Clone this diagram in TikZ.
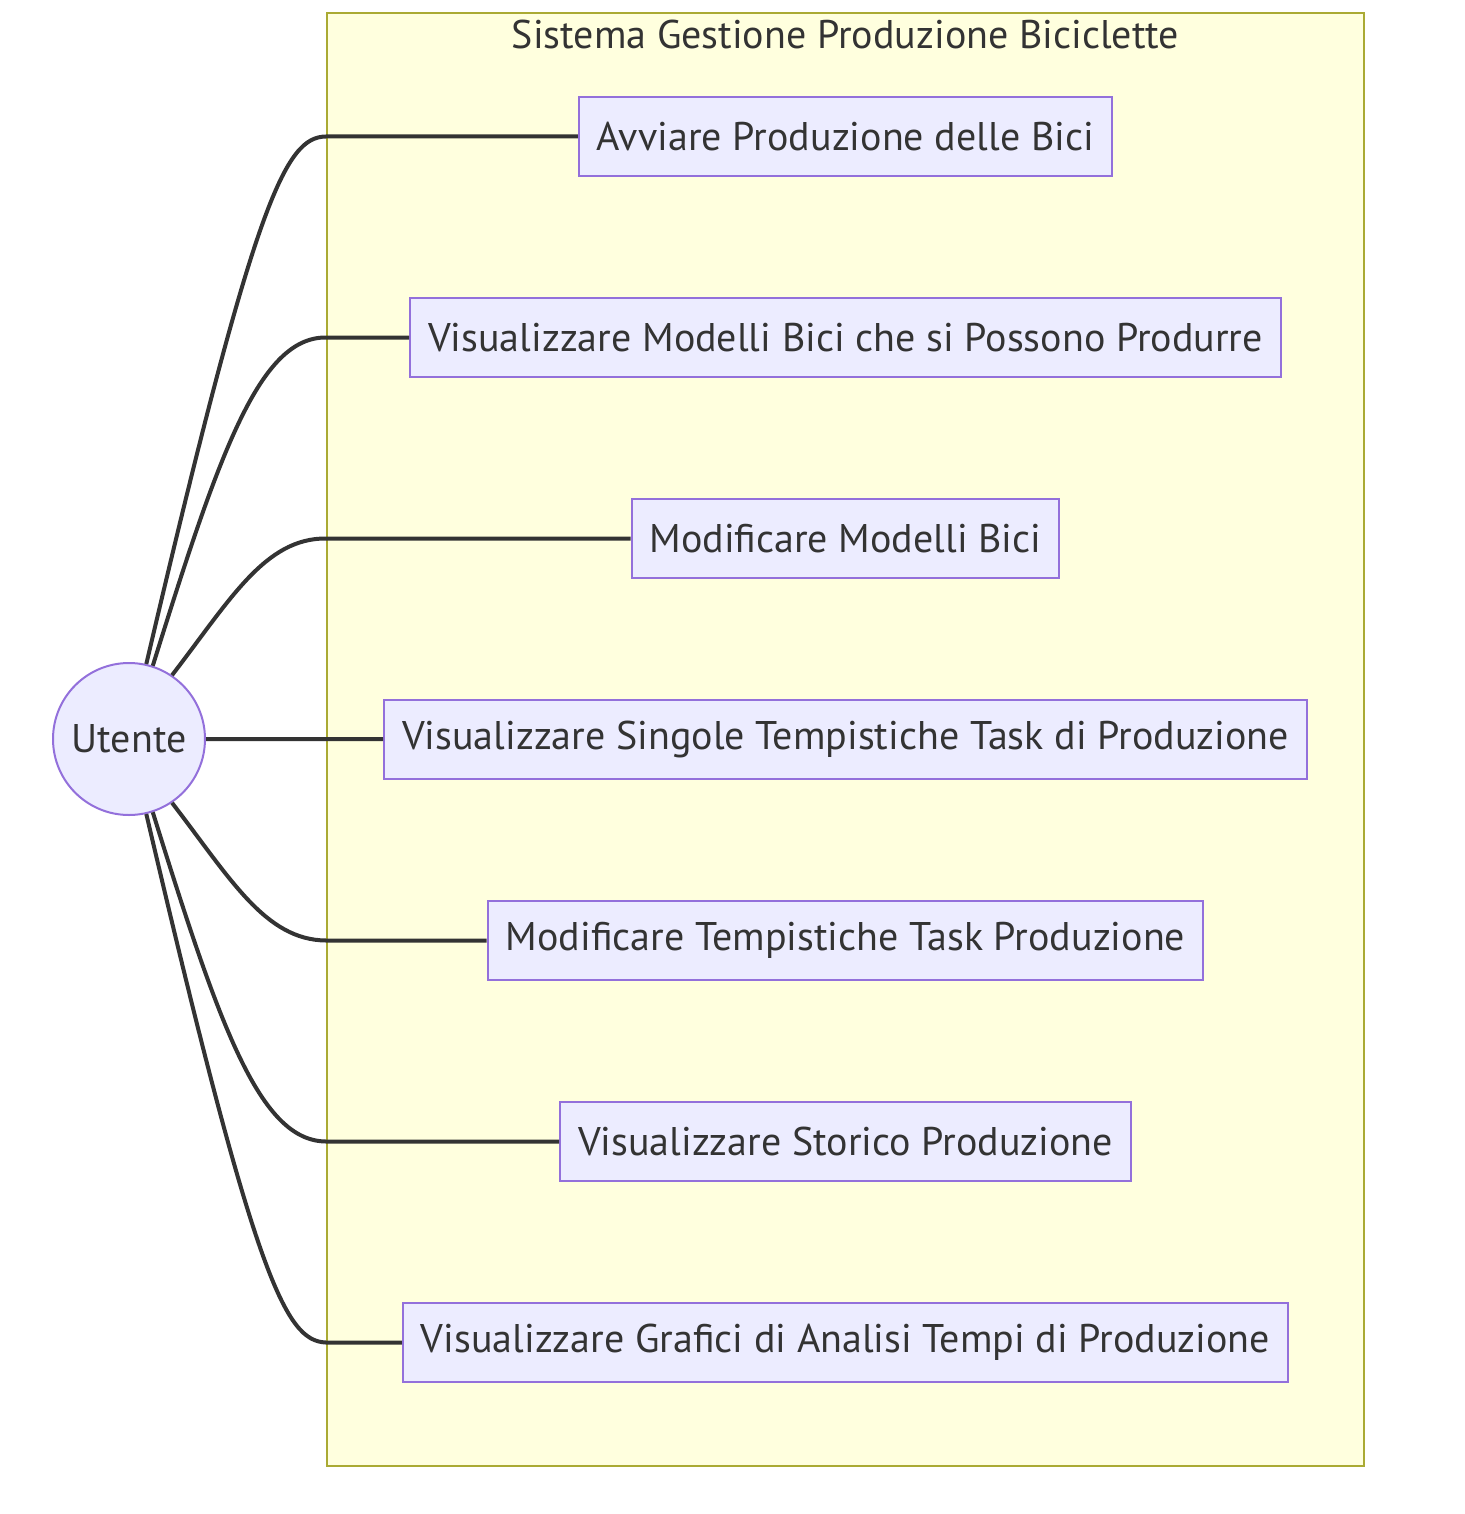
\documentclass[tikz,border=0pt]{standalone}
\usepackage{fontspec}
\setmainfont{PT Sans}
\usetikzlibrary{matrix,calc,positioning}
\definecolor{ucfill}{HTML}{ECECFF}
\definecolor{ucline}{HTML}{9370DB}
\definecolor{sysfill}{HTML}{FFFFDE}
\definecolor{sysline}{HTML}{AAAA33}
\definecolor{ink}{HTML}{333333}
\newcommand{\ucfont}{\fontsize{40}{48}\selectfont}

\begin{document}
\begin{tikzpicture}[x=1pt,y=-1pt,
    usecase/.style={draw=ucline,fill=ucfill,line width=2pt,minimum height=79pt,inner xsep=18pt,text=ink,font=\ucfont},
    actor/.style={circle,draw=ucline,fill=ucfill,line width=2pt,minimum size=152pt,inner sep=0pt,text=ink,font=\ucfont},
    sysbox/.style={draw=sysline,fill=sysfill,line width=2pt,minimum width=1037pt,minimum height=1453pt},
    assoc/.style={draw=ink,line width=4pt}]
    \useasboundingbox (0,0) rectangle (1464,1514);
    \node[sysbox] (sys) at (845.5,739.5) {};
    \node[text=ink,font=\ucfont] (title) at ($(sys.north)+(0,23)$) {Sistema Gestione Produzione Biciclette};
    \node[actor] (u) at (129,739) {Utente};
    \matrix(m)[matrix of nodes,row sep=120pt,nodes={usecase}] at (845.5,739.5) {
      Avviare Produzione delle Bici\\
      Visualizzare Modelli Bici che si Possono Produrre\\
      Modificare Modelli Bici\\
      Visualizzare Singole Tempistiche Task di Produzione\\
      Modificare Tempistiche Task Produzione\\
      Visualizzare Storico Produzione\\
      Visualizzare Grafici di Analisi Tempi di Produzione\\
    };
    \draw[assoc]
    (u.77.5) .. controls (255,200) and (285,137) .. (m-1-1.west -| sys.west) -- (m-1-1)
    (u.72) .. controls (220,450) and (260,337) .. (m-2-1.west -| sys.west) -- (m-2-1)
    (u.56) .. controls (230,600) and (265,538) .. (m-3-1.west -| sys.west) -- (m-3-1)
    (u.east) -- (m-4-1)
    (u.-56) .. controls (230,878) and (265,940) .. (m-5-1.west -| sys.west) -- (m-5-1)
    (u.-72) .. controls (220,1028) and (260,1141) .. (m-6-1.west -| sys.west) -- (m-6-1)
    (u.-77.5) .. controls (255,1278) and (285,1341) .. (m-7-1.west -| sys.west) -- (m-7-1);
  \end{tikzpicture}
\end{document}
